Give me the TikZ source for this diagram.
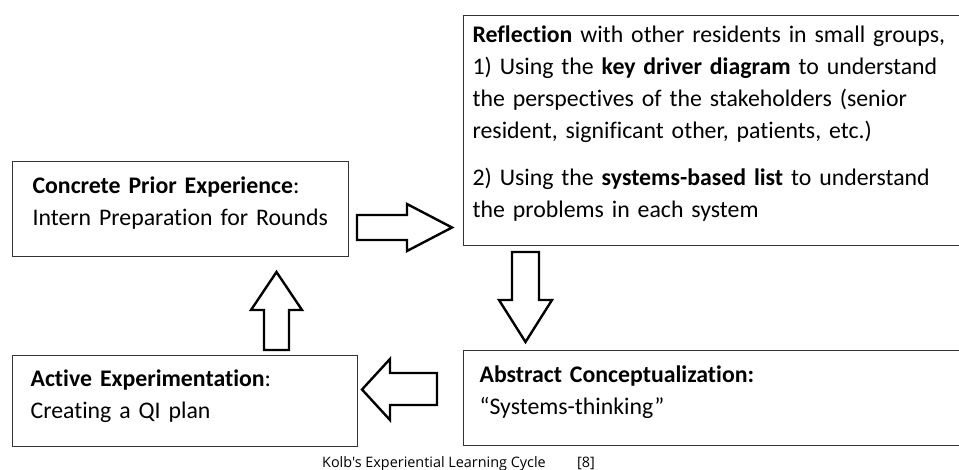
\documentclass[tikz,border=0pt]{standalone}
\usepackage{fontspec}
\setmainfont{Carlito}[Ligatures=NoCommon]
\newfontfamily\capfont{Open Sans}
\usetikzlibrary{positioning}

\begin{document}
\begin{tikzpicture}
[x=1pt, y=-1pt,
% STYLES
% The stage style is used for the four boxes of the cycle
stage/.style={draw=black!80, line width=1.2pt, anchor=north west, align=left, inner ysep=0pt, font=\fontsize{23.8}{32}\selectfont},
% The turn style is used for the open arrows between the stages
turn/.style={draw=black, line width=2.4pt, fill=white, line join=miter},
caption/.style={font=\capfont\fontsize{14.4}{16}\selectfont, anchor=base west, inner sep=0pt}]

\clip (0,0) rectangle (959,469);

% Draw stages
\node [stage, inner xsep=20pt, text width=296pt, text height=32pt, text depth=63pt] (concrete) at (12,161)
  {\textbf{Concrete Prior Experience}:\\Intern Preparation for Rounds};
\node [stage, inner xsep=9pt, text width=499pt, text height=27pt, text depth=203pt] (reflection) at (463,15)
  {\textbf{Reflection} with other residents in small groups,\\
   1) Using the \textbf{key driver diagram} to understand\\
   the perspectives of the stakeholders (senior\\
   resident, significant other, patients, etc.)\\[15pt]
   2) Using the \textbf{systems-based list} to understand\\
   the problems in each system};
\node [stage, inner xsep=16pt, text width=485pt, text height=32pt, text depth=63pt] (abstract) at (463,350)
  {\textbf{Abstract Conceptualization:}\\“Systems-thinking”};
\node [stage, inner xsep=18pt, text width=309pt, text height=31pt, text depth=60pt] (active) at (12,355)
  {\textbf{Active Experimentation}:\\Creating a QI plan};

% Draw the turns of the cycle
% concrete -> reflection
\draw [turn] (357,215) -- (407,215) -- (407,204) -- (452,227.5) -- (407,251) -- (407,240) -- (357,240) -- cycle;
% reflection -> abstract
\draw [turn] (512,252) -- (539,252) -- (539,300) -- (552,300) -- (525.5,342) -- (499,300) -- (512,300) -- cycle;
% abstract -> active
\draw [turn] (437,373) -- (390,373) -- (390,359) -- (362,389.5) -- (390,420) -- (390,405) -- (437,405) -- cycle;
% active -> concrete
\draw [turn] (264,350) -- (264,310) -- (251,310) -- (276.5,272) -- (302,310) -- (289,310) -- (289,350) -- cycle;

% Caption
\node [caption] (title) at (322,467) {Kolb's Experiential Learning Cycle};
\node [caption] (ref) at (577,467) {[8]};

\end{tikzpicture}
\end{document}
